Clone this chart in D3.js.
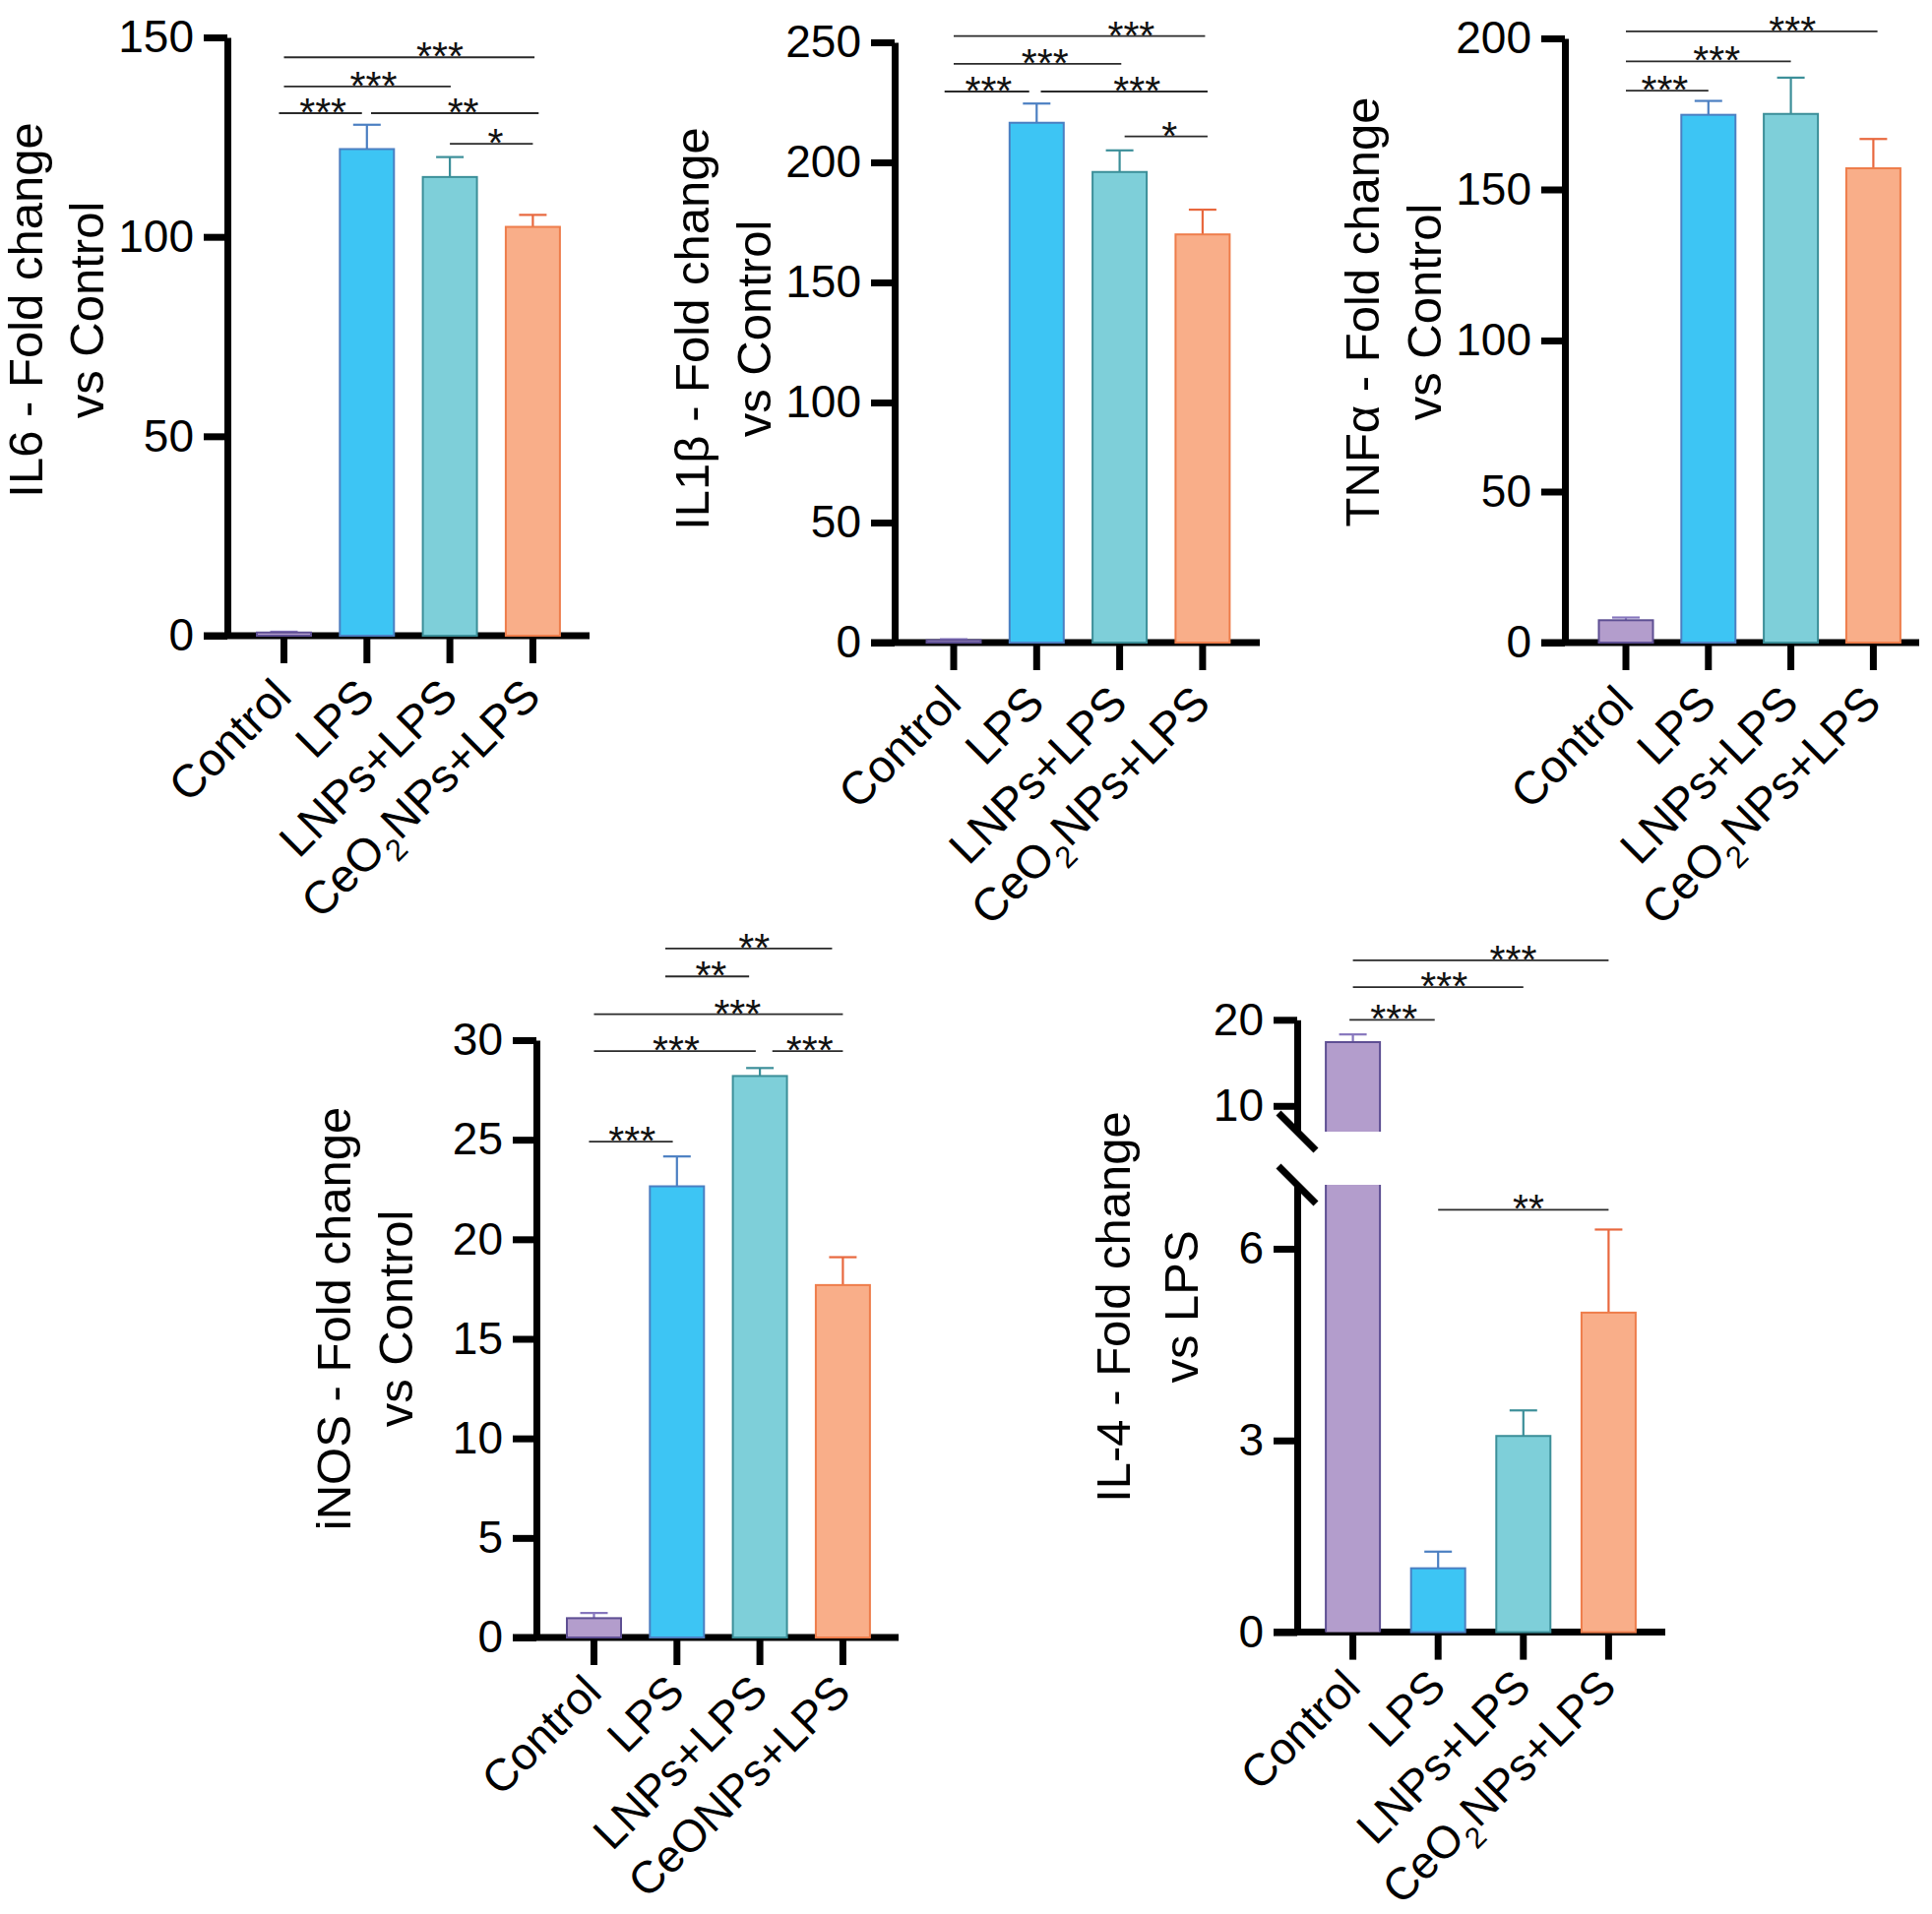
<!DOCTYPE html>
<html>
<head>
<meta charset="utf-8">
<script src="https://cdn.jsdelivr.net/npm/d3@7"></script>
<style>
  html, body { margin: 0; padding: 0; background: #ffffff; }
  svg { display: block; }
</style>
</head>
<body>
<svg id="chart" width="1963" height="1945"></svg>
<script>
// ---------------- DATA ----------------
const categories = ["Control", "LPS", "LNPs+LPS", "CeO2NPs+LPS"];
const categoriesINOS = ["Control", "LPS", "LNPs+LPS", "CeONPs+LPS"];

const il6Values = [0.8, 122.0, 115.0, 102.5];
const il6Errors = [0.2, 6.1, 5.0, 3.0];
const il6Ticks = [0, 50, 100, 150];
const il6Brackets = [
  { from: -0.06, to: 0.94, y: 131.0, label: "***", at: 0.47 },
  { from: 1.05, to: 3.07, y: 131.0, label: "**", at: 2.16 },
  { from: 0.0, to: 2.01, y: 137.7, label: "***", at: 1.08 },
  { from: 0.0, to: 3.02, y: 145.0, label: "***", at: 1.88 },
  { from: 2.0, to: 3.0, y: 123.3, label: "*", at: 2.55 }
];

const il1bValues = [1.0, 216.5, 196.0, 170.0];
const il1bErrors = [0.4, 8.0, 9.0, 10.3];
const il1bTicks = [0, 50, 100, 150, 200, 250];
const il1bBrackets = [
  { from: -0.11, to: 0.91, y: 229.5, label: "***", at: 0.42 },
  { from: 1.05, to: 3.06, y: 229.5, label: "***", at: 2.21 },
  { from: 0.0, to: 2.02, y: 241.0, label: "***", at: 1.10 },
  { from: 0.0, to: 3.03, y: 252.6, label: "***", at: 2.14 },
  { from: 2.06, to: 3.06, y: 210.8, label: "*", at: 2.60 }
];

const tnfValues = [7.4, 174.7, 175.0, 157.0];
const tnfErrors = [0.9, 4.6, 12.0, 9.7];
const tnfTicks = [0, 50, 100, 150, 200];
const tnfBrackets = [
  { from: 0.0, to: 1.0, y: 182.7, label: "***", at: 0.47 },
  { from: 0.0, to: 2.0, y: 192.4, label: "***", at: 1.10 },
  { from: 0.0, to: 3.05, y: 202.3, label: "***", at: 2.02 }
];

const inosValues = [0.97, 22.66, 28.2, 17.7];
const inosErrors = [0.26, 1.5, 0.4, 1.4];
const inosTicks = [0, 5, 10, 15, 20, 25, 30];
const inosBrackets = [
  { from: -0.06, to: 0.95, y: 24.9, label: "***", at: 0.46 },
  { from: 0.0, to: 1.95, y: 29.45, label: "***", at: 0.99 },
  { from: 2.15, to: 3.0, y: 29.45, label: "***", at: 2.60 },
  { from: 0.0, to: 3.0, y: 31.3, label: "***", at: 1.73 },
  { from: 0.86, to: 1.87, y: 33.2, label: "**", at: 1.41 },
  { from: 0.86, to: 2.87, y: 34.6, label: "**", at: 1.93 }
];

const il4Values = [17.4, 1.0, 3.07, 5.0];
const il4Errors = [0.9, 0.26, 0.4, 1.3];
const il4TicksLower = [0, 3, 6];
const il4TicksUpper = [10, 20];
const il4LowerDomain = [0, 7];
const il4UpperDomain = [7, 20];
const il4Brackets = [
  { from: -0.04, to: 0.96, y: 20.0, label: "***", at: 0.48 },
  { from: 0.0, to: 2.0, y: 23.8, label: "***", at: 1.07 },
  { from: 0.0, to: 3.0, y: 26.9, label: "***", at: 1.88 },
  { from: 1.0, to: 3.0, y: 6.61, label: "**", at: 2.06 }
];

// ---------------- STYLE ----------------
const FONT = '"Liberation Sans", Arial, Helvetica, sans-serif';
const fills   = ["#B39DCC", "#3DC5F4", "#7ECFD9", "#F9AE89"];
const strokes = ["#5E4F93", "#4B7FC2", "#3C8F99", "#EE7D4B"];
const errCols = ["#8676BD", "#4B7FC2", "#3C8F99", "#E8683E"];
const AXIS_W = 7, TICK_LEN = 24, XTICK_LEN = 28, BAR_W = 55, CAP_W = 28;

const svg = d3.select("#chart");
svg.append("rect").attr("width", 1963).attr("height", 1945).attr("fill", "#fff");

function styleAxis(sel, fontSize) {
  sel.selectAll("path.domain").attr("stroke", "#000").attr("stroke-width", AXIS_W);
  sel.selectAll(".tick line").attr("stroke", "#000").attr("stroke-width", AXIS_W);
  sel.selectAll(".tick text").attr("fill", "#000").style("font-family", FONT).style("font-size", fontSize + "px");
}

function setLabel(textSel, label, subSize) {
  textSel.text(null);
  const m = label.match(/^(CeO)2(.*)$/);
  if (m) {
    textSel.append("tspan").text(m[1]);
    textSel.append("tspan").attr("dy", 14).style("font-size", subSize + "px").text("2");
    textSel.append("tspan").attr("dy", -14).text(m[2]);
  } else {
    textSel.text(label);
  }
}

function drawPanel(p) {
  const L = p.layout;
  const g = svg.append("g");
  const pi = 1 - BAR_W / L.step;
  const xb = d3.scaleBand().domain(p.cats)
    .range([L.c0 - L.step / 2, L.c0 + 3.5 * L.step])
    .paddingInner(pi).paddingOuter(pi / 2);
  const bw = xb.bandwidth();
  const cx = c => xb(c) + bw / 2;
  const xi = d3.scaleLinear().domain([0, p.cats.length - 1]).range([cx(p.cats[0]), cx(p.cats[p.cats.length - 1])]);

  // y scales
  let yFn;
  if (p.broken) {
    const yLow = d3.scaleLinear().domain(p.lowerDomain).range([L.y0, L.lowTop]);
    const yUp = d3.scaleLinear().domain(p.upperDomain).range([L.upBottom, L.yTop]);
    yFn = v => (v <= p.lowerDomain[1] ? yLow(v) : yUp(v));
    const a1 = g.append("g").attr("transform", `translate(${L.axisX},0)`)
      .call(d3.axisLeft(yLow).tickValues(p.ticksLower).tickSize(TICK_LEN).tickSizeOuter(0).tickPadding(10).tickFormat(d3.format("d")));
    const a2 = g.append("g").attr("transform", `translate(${L.axisX},0)`)
      .call(d3.axisLeft(yUp).tickValues(p.ticksUpper).tickSize(TICK_LEN).tickSizeOuter(0).tickPadding(10).tickFormat(d3.format("d")));
    styleAxis(a1, 46); styleAxis(a2, 46);
    // break marks
    [L.upBottom, L.lowTop].forEach(yy => {
      g.append("line").attr("x1", L.axisX - 19).attr("y1", yy - 19)
        .attr("x2", L.axisX + 19).attr("y2", yy + 19)
        .attr("stroke", "#000").attr("stroke-width", AXIS_W);
    });
  } else {
    const y = d3.scaleLinear().domain(p.domain).range([L.y0, L.yTop]);
    yFn = y;
    const a = g.append("g").attr("transform", `translate(${L.axisX},0)`)
      .call(d3.axisLeft(y).tickValues(p.ticks).tickSize(TICK_LEN).tickSizeOuter(0).tickPadding(10));
    styleAxis(a, 46);
  }

  // x axis
  const xa = g.append("g").attr("transform", `translate(0,${L.y0})`)
    .call(d3.axisBottom(xb).tickSize(XTICK_LEN).tickSizeOuter(0));
  xa.select("path.domain").remove();
  styleAxis(xa, L.labelSize);
  xa.selectAll(".tick text").each(function (d) {
    const t = d3.select(this);
    t.attr("x", 0).attr("y", 0).attr("dy", 0).attr("text-anchor", "end")
      .attr("transform", `translate(10,${L.labelDrop}) rotate(-45)`);
    setLabel(t, d, Math.round(L.labelSize * 0.66));
  });
  g.append("line").attr("x1", L.axisX - TICK_LEN).attr("x2", L.xEnd)
    .attr("y1", L.y0).attr("y2", L.y0).attr("stroke", "#000").attr("stroke-width", AXIS_W);

  // bars
  const barG = g.append("g");
  p.cats.forEach((c, i) => {
    const v = p.values[i], e = p.errors[i];
    const x0 = xb(c);
    const ec = errCols[i];
    barG.append("line").attr("x1", cx(c)).attr("x2", cx(c))
      .attr("y1", yFn(v)).attr("y2", yFn(v + e)).attr("stroke", ec).attr("stroke-width", 2.2);
    barG.append("line").attr("x1", cx(c) - CAP_W / 2).attr("x2", cx(c) + CAP_W / 2)
      .attr("y1", yFn(v + e)).attr("y2", yFn(v + e)).attr("stroke", ec).attr("stroke-width", 2.2);
    if (p.broken && v > p.lowerDomain[1]) {
      const lowTopY = yFn(p.lowerDomain[1]);
      const upBotY = L.upBottom;
      barG.append("rect").attr("x", x0).attr("width", bw).attr("y", lowTopY).attr("height", L.y0 - lowTopY).attr("fill", fills[i]);
      barG.append("rect").attr("x", x0).attr("width", bw).attr("y", yFn(v)).attr("height", upBotY - yFn(v)).attr("fill", fills[i]);
      barG.append("path").attr("fill", "none").attr("stroke", strokes[i]).attr("stroke-width", 2)
        .attr("d", `M${x0},${L.y0}V${lowTopY}M${x0 + bw},${L.y0}V${lowTopY}` +
                   `M${x0},${upBotY}V${yFn(v)}H${x0 + bw}V${upBotY}`);
    } else {
      barG.append("rect").attr("x", x0).attr("width", bw)
        .attr("y", yFn(v)).attr("height", L.y0 - yFn(v))
        .attr("fill", fills[i]).attr("stroke", strokes[i]).attr("stroke-width", 2);
    }
  });

  // significance brackets
  p.brackets.forEach(b => {
    const yy = yFn(b.y);
    g.append("line").attr("x1", xi(b.from)).attr("x2", xi(b.to))
      .attr("y1", yy).attr("y2", yy).attr("stroke", "#2a2a2a").attr("stroke-width", 1.8);
    g.append("text").attr("x", xi(b.at)).attr("y", yy + 13)
      .attr("text-anchor", "middle").style("font-family", FONT).style("font-size", "41px")
      .attr("fill", "#111").text(b.label);
  });

  // axis title (two lines, rotated)
  [[p.title[0], L.axisX - L.t1], [p.title[1], L.axisX - L.t2]].forEach(([txt, x]) => {
    g.append("text").attr("transform", `translate(${x},${L.titleY}) rotate(-90)`)
      .attr("text-anchor", "middle").style("font-family", FONT).style("font-size", "49px")
      .attr("fill", "#000").text(txt);
  });
}

const panels = [
  { title: ["IL6 - Fold change", "vs Control"], cats: categories, values: il6Values, errors: il6Errors,
    ticks: il6Ticks, domain: [0, 150], brackets: il6Brackets,
    layout: { axisX: 231, c0: 288.5, step: 84.3, xEnd: 599, y0: 646, yTop: 38, titleY: 315, t1: 188, t2: 126, labelSize: 47, labelDrop: 64 } },
  { title: ["IL1\u03B2 - Fold change", "vs Control"], cats: categories, values: il1bValues, errors: il1bErrors,
    ticks: il1bTicks, domain: [0, 250], brackets: il1bBrackets,
    layout: { axisX: 909, c0: 969, step: 84.3, xEnd: 1280, y0: 653, yTop: 43, titleY: 334, t1: 189, t2: 126, labelSize: 47, labelDrop: 64 } },
  { title: ["TNF\u03B1 - Fold change", "vs Control"], cats: categories, values: tnfValues, errors: tnfErrors,
    ticks: tnfTicks, domain: [0, 200], brackets: tnfBrackets,
    layout: { axisX: 1590, c0: 1652, step: 83.8, xEnd: 1950, y0: 653, yTop: 39, titleY: 317, t1: 189, t2: 126, labelSize: 47, labelDrop: 64 } },
  { title: ["iNOS - Fold change", "vs Control"], cats: categoriesINOS, values: inosValues, errors: inosErrors,
    ticks: inosTicks, domain: [0, 30], brackets: inosBrackets,
    layout: { axisX: 545, c0: 603.5, step: 84.3, xEnd: 913, y0: 1664, yTop: 1057, titleY: 1340, t1: 189, t2: 126, labelSize: 46, labelDrop: 58 } },
  { title: ["IL-4 - Fold change", "vs LPS"], cats: categories, values: il4Values, errors: il4Errors,
    broken: true, lowerDomain: il4LowerDomain, upperDomain: il4UpperDomain,
    ticksLower: il4TicksLower, ticksUpper: il4TicksUpper, brackets: il4Brackets,
    layout: { axisX: 1318, c0: 1374.6, step: 86.6, xEnd: 1692, y0: 1658.6, lowTop: 1204, upBottom: 1150, yTop: 1036.3, titleY: 1328, t1: 170, t2: 101, labelSize: 46, labelDrop: 58 } }
];

panels.forEach(drawPanel);
</script>
</body>
</html>
